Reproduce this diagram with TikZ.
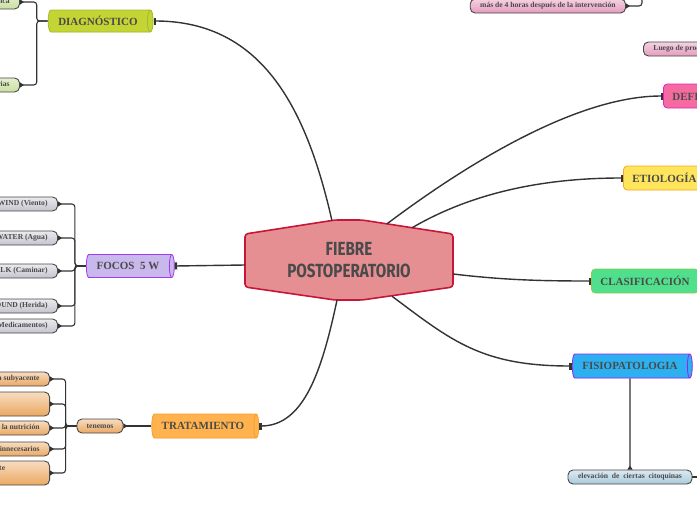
\documentclass[tikz,border=0pt]{standalone}
\usepackage{fontspec}
\setmainfont{Liberation Serif}
\newfontfamily\rootfont{Fira Sans}[FakeStretch=0.8]
\usetikzlibrary{shapes.geometric,arrows.meta,positioning,calc}
\definecolor{MapLine}{HTML}{333333}
\definecolor{MapText}{HTML}{4A4A4A}
\definecolor{MapRoot}{HTML}{E58F92}
\definecolor{MapRootLine}{HTML}{C8163A}
\definecolor{MapDiag}{HTML}{C3D434}
\definecolor{MapDiagLine}{HTML}{9CBE2E}
\definecolor{MapDiagLeaf}{HTML}{C9E0A0}
\definecolor{MapPinkLeaf}{HTML}{E59BBE}
\definecolor{MapDefi}{HTML}{F56AA0}
\definecolor{MapDefiLine}{HTML}{E020C8}
\definecolor{MapEtio}{HTML}{FFE55C}
\definecolor{MapEtioLine}{HTML}{F5A623}
\definecolor{MapClas}{HTML}{50E08C}
\definecolor{MapClasLine}{HTML}{8CC850}
\definecolor{MapFisio}{HTML}{2CB0F0}
\definecolor{MapFisioLine}{HTML}{A020F0}
\definecolor{MapFisioLeaf}{HTML}{A9CADC}
\definecolor{MapFoco}{HTML}{C8B8EC}
\definecolor{MapFocoLine}{HTML}{A33AF0}
\definecolor{MapFocoLeaf}{HTML}{C4C4CE}
\definecolor{MapTrat}{HTML}{FFB24D}
\definecolor{MapTratLine}{HTML}{F5A030}
\definecolor{MapTratLeaf}{HTML}{EBA862}
\tikzset{
  conn/.style={draw=MapLine,line width=1.4pt,-{Rectangle[length=2.5pt,width=7pt]}},
  sub/.style={draw=MapLine,line width=1.1pt,rounded corners=3pt,
              -{Triangle[reversed,length=4pt,width=5pt]}},
  topic/.style={rounded corners=4pt,line width=0.8pt,minimum height=24pt,
                inner xsep=9pt,text=MapText,
                font=\fontsize{11}{13}\selectfont\bfseries},
  tube/.style={cylinder,shape aspect=0.35,line width=0.8pt,
               cylinder uses custom fill,text=MapText,
               font=\fontsize{11}{13}\selectfont\bfseries},
  leaf/.style={rounded corners=5pt,draw=MapLine!90,line width=0.9pt,
               minimum height=14pt,inner xsep=10pt,inner ysep=1pt,text=MapText,
               font=\fontsize{7.6}{8.6}\selectfont\bfseries},
}
\begin{document}
\begin{tikzpicture}[x=1pt,y=-1pt]
  \useasboundingbox (0,0) rectangle (697,520);
  \clip (0,0) rectangle (697,520);
  % central idea
  \filldraw[fill=MapRoot,draw=MapRootLine,line width=1.6pt,rounded corners=3pt]
    (245,234) -- (335,220) -- (362,220) -- (453,234) -- (453,287)
    -- (362,300) -- (335,300) -- (245,287) -- cycle;
  \node[minimum width=208pt,minimum height=80pt,align=center,text=MapText,
        font=\rootfont\fontsize{19}{22}\selectfont\bfseries]
    (root) at (349,260) {FIEBRE\\POSTOPERATORIO};
  % DIAGNOSTICO
  \node[tube,fill=MapDiag,draw=MapDiagLine,cylinder body fill=MapDiag,
        cylinder end fill=MapDiag,minimum height=105pt,minimum width=22pt]
    (diag) at (98,21) {DIAGNÓSTICO};
  \node[leaf,top color=MapDiagLeaf!50!white,bottom color=MapDiagLeaf,anchor=east]
    (dg1) at (20,2) {Exploración física};
  \node[leaf,top color=MapDiagLeaf!50!white,bottom color=MapDiagLeaf,anchor=east]
    (dg2) at (20,85) {Pruebas complementarias};
  \draw[conn] ($(root.north)+(-17,1)$) .. controls +(-25,-110) and +(110,0) .. (diag.east);
  \draw[sub] (diag.west) -- ++(-11,0) |- (dg1.east);
  \draw[sub] (diag.west) -- ++(-11,0) |- (dg2.east);
  % DEFINICION
  \node[leaf,top color=MapPinkLeaf!45!white,bottom color=MapPinkLeaf,anchor=east]
    (pk1) at (626,6) {más de 4 horas después de la intervención};
  \node[leaf,top color=MapPinkLeaf!45!white,bottom color=MapPinkLeaf,anchor=west]
    (pk2) at (643,49) {Luego de procedimiento quirúrgico};
  \coordinate (pkup) at (642,-12);
  \draw[sub] (pkup) |- (pk1.east);
  \node[topic,fill=MapDefi,draw=MapDefiLine,anchor=west] (defi) at (663,96) {DEFINICIÓN};
  \draw[conn] ($(root.north)+(38,4)$) .. controls +(60,-45) and +(-95,0) .. (defi.west);
  % ETIOLOGIA
  \node[topic,fill=MapEtio,draw=MapEtioLine,anchor=west] (etio) at (623,178) {ETIOLOGÍA};
  \draw[conn] ($(root.north)+(63,8)$) .. controls +(60,-35) and +(-80,0) .. (etio.west);
  % CLASIFICACION
  \node[topic,fill=MapClas,draw=MapClasLine,anchor=west] (clas) at (591,281) {CLASIFICACIÓN};
  \draw[conn] ($(root.east)+(0,14)$) .. controls +(50,6) and +(-50,0) .. (clas.west);
  % FISIOPATOLOGIA
  \node[tube,fill=MapFisio,draw=MapFisioLine,cylinder body fill=MapFisio,
        cylinder end fill=MapFisio,minimum height=120pt,minimum width=24pt]
    (fisio) at (630,366) {FISIOPATOLOGIA};
  \node[leaf,top color=MapFisioLeaf!40!white,bottom color=MapFisioLeaf,
        minimum width=124pt,inner xsep=4pt]
    (fc1) at (630,477) {elevación~~de~~ciertas~~citoquinas};
  \draw[conn] ($(root.south)+(43,-4)$) .. controls +(60,45) and +(-90,0) .. (fisio.west);
  \draw[sub] (fisio.south) -- (fc1.north);
  \draw[draw=MapLine,line width=1.1pt] (fc1.east) -- ++(10,0);
  % FOCOS 5 W
  \node[tube,fill=MapFoco,draw=MapFocoLine,cylinder body fill=MapFoco,
        cylinder end fill=MapFoco,minimum height=88pt,minimum width=23pt]
    (foco) at (128,266) {FOCOS~~5 W};
  \foreach \y/\txt [count=\i] in {204/WIND (Viento),238/WATER (Agua),
      271/WALK (Caminar),306/WOUND (Herida),326/WONDER DRUGS (Medicamentos)} {
    \node[leaf,top color=MapFocoLeaf!35!white,bottom color=MapFocoLeaf,anchor=east]
      (fw\i) at (58,\y) {\txt};
    \draw[sub] (foco.west) -- ++(-11,0) |- (fw\i.east);
  }
  \draw[conn] ($(root.west)+(0,5)$) -- (foco.east);
  % TRATAMIENTO
  \node[tube,fill=MapTrat,draw=MapTratLine,cylinder body fill=MapTrat,
        cylinder end fill=MapTrat,minimum height=107pt,minimum width=24pt]
    (trat) at (203,426) {TRATAMIENTO};
  \node[leaf,top color=MapTratLeaf!40!white,bottom color=MapTratLeaf,
        minimum width=46pt,inner xsep=4pt] (tene) at (100,426) {tenemos};
  \draw[conn] ($(root.south)+(-12,0)$) .. controls +(-15,70) and +(45,0) .. (trat.east);
  \draw[sub] (trat.west) -- (tene.east);
  \node[leaf,top color=MapTratLeaf!40!white,bottom color=MapTratLeaf,anchor=east]
    (tr1) at (50,379) {Tratar la causa subyacente};
  \node[leaf,top color=MapTratLeaf!40!white,bottom color=MapTratLeaf,anchor=east,
        minimum height=24pt,align=left,text width=130pt]
    (tr2) at (50,404) {Cuidado de la herida\\quirúrgica};
  \node[leaf,top color=MapTratLeaf!40!white,bottom color=MapTratLeaf,anchor=east]
    (tr3) at (50,428) {Mejorar la nutrición};
  \node[leaf,top color=MapTratLeaf!40!white,bottom color=MapTratLeaf,anchor=east]
    (tr4) at (50,449) {Retirar catéteres innecesarios};
  \node[leaf,top color=MapTratLeaf!40!white,bottom color=MapTratLeaf,anchor=east,
        minimum height=24pt,align=left,text width=137pt]
    (tr5) at (50,473) {Medidas de soporte al paciente\\según evolución};
  \foreach \n in {tr1,tr2,tr3,tr4,tr5}
    \draw[sub] (tene.west) -- ++(-11,0) |- (\n.east);
\end{tikzpicture}
\end{document}
